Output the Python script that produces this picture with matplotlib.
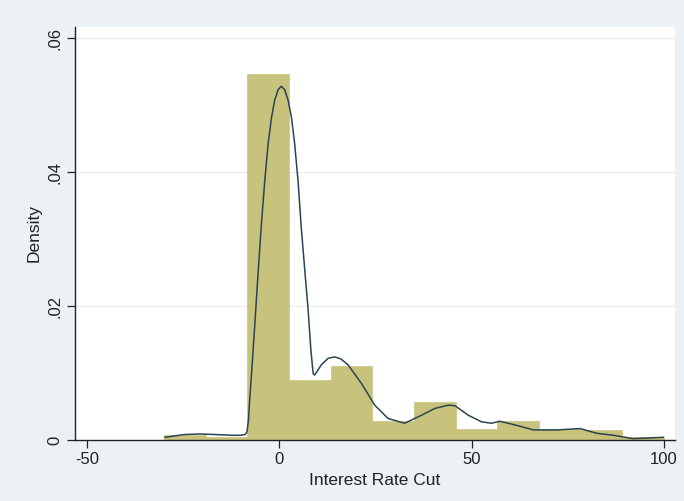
import numpy as np
import matplotlib.pyplot as plt

plt.rcParams['font.family'] = ['Liberation Sans', 'DejaVu Sans']

# histogram: 12 bins from -30 to 100, density heights
bin_edges = np.linspace(-30, 100, 13)
densities = [0.0008, 0.0005, 0.0547, 0.0089, 0.0111, 0.0028,
             0.0056, 0.0017, 0.0029, 0.0016, 0.0015, 0.0005]

# kernel density curve, read point by point
kde_x = [-29.7, -24.9, -20.6, -16.3, -12.0, -10.2, -8.9, -8.4, -8.0, -7.7,
         -7.2, -6.4, -5.5, -4.7, -3.8, -2.9, -2.0, -1.2, -0.3, 0.5,
         1.4, 2.3, 3.2, 4.0, 4.9, 5.7, 6.6, 7.5, 8.2, 8.8,
         9.2, 10.0, 10.9, 12.7, 14.4, 16.0, 17.9, 21.4, 24.8, 28.3,
         32.6, 37.0, 40.4, 43.9, 45.7, 49.1, 52.6, 55.2, 57.3, 60.9,
         66.1, 72.1, 78.2, 82.5, 86.8, 92.0, 96.0, 99.8]
kde_y = [0.0004, 0.0008, 0.0009, 0.0008, 0.0007, 0.0007, 0.0008, 0.0012, 0.0030, 0.0060,
         0.0100, 0.0169, 0.0250, 0.0318, 0.0385, 0.0442, 0.0482, 0.0507, 0.0523, 0.0528,
         0.0523, 0.0507, 0.0480, 0.0442, 0.0385, 0.0318, 0.0255, 0.0194, 0.0135, 0.0099,
         0.0097, 0.0104, 0.0112, 0.0122, 0.0124, 0.0121, 0.0112, 0.0084, 0.0052, 0.0032,
         0.0025, 0.0037, 0.0047, 0.0052, 0.0051, 0.0037, 0.0027, 0.0025, 0.0028, 0.0023,
         0.0015, 0.0015, 0.0017, 0.0010, 0.0007, 0.0002, 0.0003, 0.0004]

x_ticks = [-50, 0, 50, 100]
y_ticks = [0, 0.02, 0.04, 0.06]
y_tick_labels = ['0', '.02', '.04', '.06']

fig = plt.figure(figsize=(6.84, 5.01), dpi=100)
fig.patch.set_facecolor('#ecf1f5')
ax = fig.add_axes([0.1096, 0.1218, 0.877, 0.825])
ax.set_facecolor('white')

for yv in y_ticks[1:]:
    ax.axhline(yv, color='#e6eef0', lw=0.9, zorder=0)

widths = np.diff(bin_edges)
ax.bar(bin_edges[:-1], densities, width=widths, align='edge',
       color='#c8c37c', edgecolor='#c8c37c', lw=0.5, zorder=1)
ax.plot(kde_x, kde_y, color='#2a4452', lw=1.1, zorder=2)

ax.set_xlim(-53.1, 102.8)
ax.set_ylim(0, 0.0617)
ax.set_xticks(x_ticks)
ax.set_xticklabels([str(v) for v in x_ticks])
ax.set_yticks(y_ticks)
ax.set_yticklabels(y_tick_labels, rotation=90, va='center')

for s in ['top', 'right']:
    ax.spines[s].set_visible(False)
for s in ['left', 'bottom']:
    ax.spines[s].set_color('#222222')
    ax.spines[s].set_linewidth(1.0)
ax.tick_params(direction='out', length=6, width=0.9, colors='#222222',
               labelsize=12, pad=3)

ax.set_xlabel('Interest Rate Cut', fontsize=12.5, color='#222222', labelpad=4)
ax.set_ylabel('Density', fontsize=12.5, color='#222222', labelpad=4)

plt.savefig('out.png', dpi=100, facecolor=fig.get_facecolor())
